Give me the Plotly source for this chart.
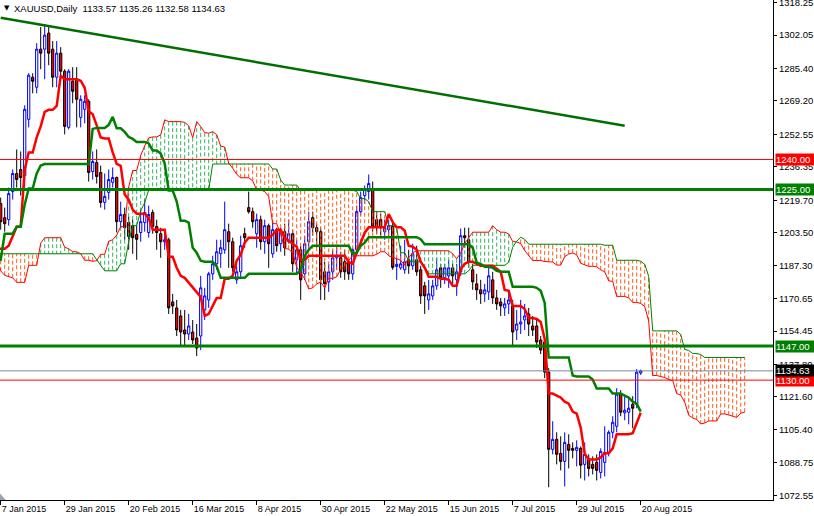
import plotly.graph_objects as go

# ---------------- data ----------------
# highs / lows of the 78 daily bars before the first visible bar (17 Sep 2014 - 6 Jan 2015),
# only needed so the Ichimoku lines exist at the left edge
pre_high = [1238, 1236, 1227, 1222, 1225, 1227, 1228, 1225, 1220, 1220,
            1217, 1217, 1216, 1209, 1213, 1225, 1228, 1226, 1230, 1235, 1250, 1247, 1242, 1248, 1255, 1249, 1244, 1234, 1235, 1232, 1230, 1213, 1199,
            1173, 1174, 1168, 1147, 1179, 1176, 1166, 1166, 1166, 1192, 1193, 1204, 1200, 1199, 1207, 1202, 1202, 1202, 1199, 1198,
            1221, 1219, 1211, 1212, 1207, 1210, 1238, 1233, 1232, 1226, 1226, 1222, 1201, 1206, 1203, 1196, 1180, 1178, 1197, 1196, 1209, 1201,
            1194, 1210, 1223]
pre_low = [1222, 1221, 1213, 1208, 1213, 1212, 1215, 1212, 1212, 1205,
           1206, 1209, 1191, 1183, 1203, 1207, 1218, 1217, 1220, 1225, 1231, 1236, 1234, 1237, 1240, 1240, 1229, 1226, 1225, 1224, 1208, 1195, 1161,
           1160, 1161, 1137, 1137, 1131, 1149, 1150, 1152, 1155, 1156, 1178, 1182, 1182, 1180, 1188, 1192, 1191, 1193, 1183, 1165,
           1142, 1194, 1196, 1200, 1186, 1190, 1196, 1220, 1220, 1217, 1206, 1189, 1188, 1186, 1190, 1172, 1170, 1171, 1172, 1177, 1178, 1182,
           1168, 1203, 1204]

# visible daily bars, 7 Jan 2015 - 20 Aug 2015
opens = [1218, 1211, 1210, 1224, 1233, 1235, 1232, 1260, 1281, 1276,
         1295, 1295, 1303, 1295, 1281, 1293, 1284, 1256, 1279, 1280,
         1261, 1265, 1269, 1234, 1238.5, 1233.5, 1218.6, 1223.6, 1228.6, 1231,
         1209, 1212.6, 1208.6, 1207, 1202.6, 1203.6, 1208.6, 1203.6, 1213.6, 1206.6,
         1203, 1199, 1200, 1169, 1166, 1162, 1155, 1153, 1154, 1151,
         1152, 1165, 1170, 1183, 1188, 1193, 1195, 1204, 1199, 1180,
         1184, 1203, 1216, 1214, 1203, 1210, 1199, 1207, 1193, 1205,
         1198, 1204, 1199, 1203, 1190, 1195, 1183, 1199, 1211, 1206,
         1204, 1184, 1179, 1184, 1191, 1191, 1189, 1189, 1183, 1195,
         1214, 1222, 1224, 1225, 1210, 1210, 1204, 1205, 1206.7, 1186.7,
         1186, 1185, 1190, 1187, 1190, 1185, 1177, 1170, 1172, 1177,
         1186, 1181, 1182, 1186, 1180, 1184, 1202, 1200, 1185, 1178,
         1175, 1173, 1174, 1180, 1171, 1169, 1166, 1168, 1167, 1155,
         1158, 1160, 1163, 1157, 1157, 1150, 1149, 1134, 1095.5, 1100.5,
         1093.5, 1089.5, 1098, 1096, 1095, 1096, 1088, 1091, 1088, 1089,
         1084, 1089, 1094, 1104, 1107, 1123, 1113.7, 1114, 1118, 1118,
         1133.57]
highs = [1221, 1216, 1226, 1235, 1245, 1244, 1267, 1283, 1283, 1298,
         1306, 1307.5, 1306, 1299, 1299, 1296, 1285, 1285, 1286, 1286,
         1272, 1272, 1270, 1244, 1245, 1237, 1233, 1235, 1236, 1231.5,
         1219, 1216, 1211.6, 1210, 1207, 1215, 1220, 1217, 1215, 1210,
         1206, 1205, 1201, 1173, 1170, 1165, 1165, 1163, 1160, 1158,
         1182, 1176, 1184, 1192, 1200, 1200, 1219, 1208, 1201, 1188,
         1202, 1206, 1224, 1216, 1213, 1212, 1210, 1208, 1209, 1206,
         1206, 1208, 1210, 1205, 1200, 1197, 1202, 1214, 1214, 1208,
         1206, 1189, 1188, 1195, 1197, 1194, 1195, 1190, 1196, 1217,
         1224, 1227, 1232.5, 1229, 1214, 1213, 1210, 1210, 1209, 1191,
         1197, 1200, 1195, 1198, 1197, 1187, 1179, 1180, 1180, 1191,
         1188, 1188, 1190, 1188, 1188, 1205.6, 1206, 1206, 1188, 1183,
         1180, 1178, 1187, 1184, 1175, 1171, 1171, 1175, 1170, 1165,
         1170, 1168, 1166, 1162, 1160, 1152, 1150, 1136, 1109.5, 1104,
         1102, 1104, 1103, 1099, 1100, 1097, 1099, 1093, 1092, 1093,
         1096, 1107, 1105, 1112, 1126, 1125, 1122, 1121, 1122, 1135.5,
         1135.26]
lows = [1205, 1204, 1207, 1220, 1226, 1222, 1226, 1256, 1273, 1273,
        1285, 1280, 1287, 1276, 1276, 1281, 1252.5, 1255, 1268, 1256,
        1256, 1258, 1229, 1230, 1228, 1216, 1215, 1220, 1226, 1203.6,
        1206, 1200, 1195, 1193, 1190, 1199, 1204, 1201, 1203, 1195,
        1191, 1195, 1163, 1163, 1152, 1147, 1147, 1150, 1148, 1142,
        1145, 1160, 1166, 1180, 1185, 1186, 1193, 1186, 1184, 1178,
        1181, 1196, 1213, 1206, 1196, 1195, 1193, 1186, 1191, 1194,
        1194, 1192, 1198, 1184, 1183, 1170, 1180, 1196, 1202, 1196,
        1170, 1170, 1174, 1180, 1185, 1181, 1180, 1180, 1180, 1193,
        1212, 1218, 1220, 1204, 1203, 1202, 1200, 1202, 1185, 1180,
        1185, 1183, 1183, 1185, 1182, 1168, 1163, 1165, 1170, 1175,
        1176, 1178, 1176, 1178, 1172, 1182, 1196, 1186, 1175, 1170,
        1168, 1169, 1170, 1168, 1165, 1162, 1162, 1163, 1147, 1150,
        1153, 1155, 1152, 1152, 1146, 1143, 1131, 1076.6, 1093, 1088,
        1085, 1077, 1086, 1091, 1087, 1081, 1080, 1082, 1083, 1080,
        1081, 1082, 1092, 1101, 1104, 1112, 1110, 1108, 1106, 1116,
        1132.58]
closes = [1209, 1208, 1223, 1233, 1230, 1231, 1265, 1282, 1279, 1295,
          1293, 1302, 1293, 1281, 1293, 1284, 1256.5, 1284, 1274, 1270,
          1270, 1269, 1233.5, 1239, 1231.5, 1218.6, 1221.6, 1230, 1231, 1209,
          1212.6, 1206, 1201.6, 1201, 1200.2, 1209, 1213.6, 1212.6, 1206.6, 1203.6,
          1199, 1200, 1166, 1167, 1155, 1154, 1153, 1157, 1150, 1146,
          1176, 1172, 1183, 1188, 1194, 1196, 1205, 1199, 1186, 1184,
          1197, 1201, 1214, 1209, 1210, 1199, 1207, 1198, 1205, 1197,
          1204, 1196, 1203, 1188, 1195, 1180, 1198, 1209, 1206, 1204,
          1180, 1178, 1184, 1191, 1192, 1184, 1184, 1183, 1195, 1214,
          1221, 1225, 1228, 1206.6, 1206, 1206, 1206, 1207, 1186.2, 1187.7,
          1188, 1189, 1187, 1193, 1184, 1172, 1172, 1173, 1177, 1185,
          1181, 1186, 1186, 1182, 1184, 1202, 1201, 1189, 1179, 1175,
          1173, 1175, 1182, 1171, 1168, 1167, 1168, 1170, 1154, 1158,
          1159, 1162, 1158, 1155, 1149, 1145, 1134, 1095.5, 1100.5, 1093,
          1089.5, 1099, 1095, 1095, 1096.5, 1087.6, 1093, 1086, 1086, 1085,
          1094.5, 1094, 1104, 1109, 1123, 1114, 1115, 1116, 1116, 1134,
          1134.63]

date_labels = ["7 Jan 2015", "29 Jan 2015", "20 Feb 2015", "16 Mar 2015", "8 Apr 2015",
               "30 Apr 2015", "22 May 2015", "15 Jun 2015", "7 Jul 2015", "29 Jul 2015",
               "20 Aug 2015"]
bars_per_label = 16

price_ticks = [1318.25, 1302.05, 1285.40, 1269.20, 1252.55, 1236.35, 1219.70, 1203.50,
               1187.30, 1170.65, 1154.45, 1137.80, 1121.60, 1105.40, 1088.75, 1072.55]

level_prices = [1240.00, 1225.00, 1147.00, 1130.00]
level_colors = ["#ff0000", "#008000", "#008000", "#ff0000"]
level_widths = [1, 3, 3, 1]
bid_price = 1134.63

trend_bars = [0, 156]
trend_prices = [1310.6, 1256.8]

header_text = "XAUUSD,Daily\u00a0\u00a01133.57 1135.26 1132.58 1134.63"

tenkan_p, kijun_p, senkou_p = 9, 26, 52

# ---------------- Ichimoku ----------------
H = pre_high + highs
L = pre_low + lows
n_pre = len(pre_high)
n_vis = len(highs)


def midrange(k, p):
    if k - p + 1 < 0 or k >= len(H):
        return None
    return (max(H[k - p + 1:k + 1]) + min(L[k - p + 1:k + 1])) / 2


line_x = list(range(-1, n_vis))
tenkan = [midrange(j + n_pre, tenkan_p) for j in line_x]
kijun = [midrange(j + n_pre, kijun_p) for j in line_x]

span_x, span_a, span_b = [], [], []
for j in range(-1, n_vis + kijun_p):
    k = j + n_pre - kijun_p
    t, kj, sb = midrange(k, tenkan_p), midrange(k, kijun_p), midrange(k, senkou_p)
    if t is None or kj is None or sb is None:
        continue
    span_x.append(j)
    span_a.append((t + kj) / 2)
    span_b.append(sb)

gx, gy, ox, oy = [], [], [], []
for j, a, b in zip(span_x, span_a, span_b):
    if a >= b:
        gx += [j, j, None]
        gy += [a, b, None]
    else:
        ox += [j, j, None]
        oy += [a, b, None]

# ---------------- figure ----------------
FONT = "Liberation Sans, Arial, sans-serif"
fig = go.Figure()

fig.add_trace(go.Scatter(x=gx, y=gy, mode="lines", line=dict(color="#2fb35c", width=1, dash="4px,2.5px"),
                         hoverinfo="skip", showlegend=False))
fig.add_trace(go.Scatter(x=ox, y=oy, mode="lines", line=dict(color="#ff5a14", width=1, dash="4px,2.5px"),
                         hoverinfo="skip", showlegend=False))
fig.add_trace(go.Scatter(x=span_x, y=span_a, mode="lines", line=dict(color="#ff0000", width=1),
                         hoverinfo="skip", showlegend=False))
fig.add_trace(go.Scatter(x=span_x, y=span_b, mode="lines", line=dict(color="#008000", width=1),
                         hoverinfo="skip", showlegend=False))

fig.add_trace(go.Candlestick(
    x=list(range(n_vis)), open=opens, high=highs, low=lows, close=closes,
    increasing=dict(line=dict(color="#0000ff", width=1), fillcolor="#ffffff"),
    decreasing=dict(line=dict(color="#000000", width=1), fillcolor="#ff0000"),
    whiskerwidth=0, showlegend=False, hoverinfo="skip"))

fig.add_trace(go.Scatter(x=line_x, y=tenkan, mode="lines", line=dict(color="#ff0000", width=2.5),
                         hoverinfo="skip", showlegend=False))
fig.add_trace(go.Scatter(x=line_x, y=kijun, mode="lines", line=dict(color="#008000", width=2.5),
                         hoverinfo="skip", showlegend=False))
fig.add_trace(go.Scatter(x=trend_bars, y=trend_prices, mode="lines", line=dict(color="#006e00", width=2.5),
                         hoverinfo="skip", showlegend=False))

shapes = []
for p, c, w in zip(level_prices, level_colors, level_widths):
    shapes.append(dict(type="line", xref="paper", x0=0, x1=1, yref="y", y0=p, y1=p,
                       line=dict(color=c, width=w)))
shapes.append(dict(type="line", xref="paper", x0=0, x1=1, yref="y", y0=bid_price, y1=bid_price,
                   line=dict(color="#7a8a9c", width=1)))
# MT4 chart-shift marker in the lower-left corner
shapes.append(dict(type="path", xref="paper", yref="paper",
                   path="M 0,0 L 0,0.013 L 0.0075,0 Z",
                   fillcolor="#9aa4b0", line=dict(width=0)))

annotations = []
for p, c in zip(level_prices + [bid_price], level_colors + ["#000000"]):
    annotations.append(dict(xref="paper", x=1, xanchor="left", xshift=2, yref="y", y=p, yanchor="middle",
                            text=f"{p:.2f}", showarrow=False, bgcolor=c, width=38, height=11,
                            align="left", borderpad=0,
                            font=dict(family=FONT, size=9.5, color="#ffffff")))
annotations.append(dict(xref="paper", yref="paper", x=0, y=1, xanchor="left", yanchor="top",
                        xshift=2, yshift=-2, text="\u25bc", showarrow=False,
                        font=dict(family="DejaVu Sans", size=7, color="#000000")))
annotations.append(dict(xref="paper", yref="paper", x=0, y=1, xanchor="left", yanchor="top",
                        xshift=12, yshift=-1, text=header_text, showarrow=False,
                        font=dict(family=FONT, size=9.5, color="#000000")))

fig.update_layout(
    width=814, height=516,
    margin=dict(l=0, r=41, t=0, b=16, autoexpand=False),
    paper_bgcolor="#ffffff", plot_bgcolor="#ffffff",
    showlegend=False, boxgap=0.2, hovermode=False,
    shapes=shapes, annotations=annotations,
    xaxis=dict(range=[-0.175, 193.075], tickvals=[i * bars_per_label for i in range(len(date_labels))],
               ticktext=date_labels, ticks="outside", ticklen=4, tickcolor="#000000",
               showline=True, linecolor="#000000", linewidth=1, showgrid=False, zeroline=False,
               ticklabelposition="outside right", rangeslider=dict(visible=False),
               ticklabeloverflow="allow", automargin=False,
               tickfont=dict(family=FONT, size=9, color="#000000")),
    yaxis=dict(side="right", range=[1070.25, 1319.5], tickvals=price_ticks,
               ticktext=[f"{v:.2f}" for v in price_ticks], ticks="outside", ticklen=3,
               tickcolor="#000000", showline=True, linecolor="#000000", linewidth=1,
               showgrid=False, zeroline=False, ticklabeloverflow="allow", automargin=False,
               tickfont=dict(family=FONT, size=9.5, color="#000000")),
)

fig.write_html("out.html", config={"displayModeBar": False, "staticPlot": True},
               post_script="document.body.style.margin='0';document.body.style.overflow='hidden';")
